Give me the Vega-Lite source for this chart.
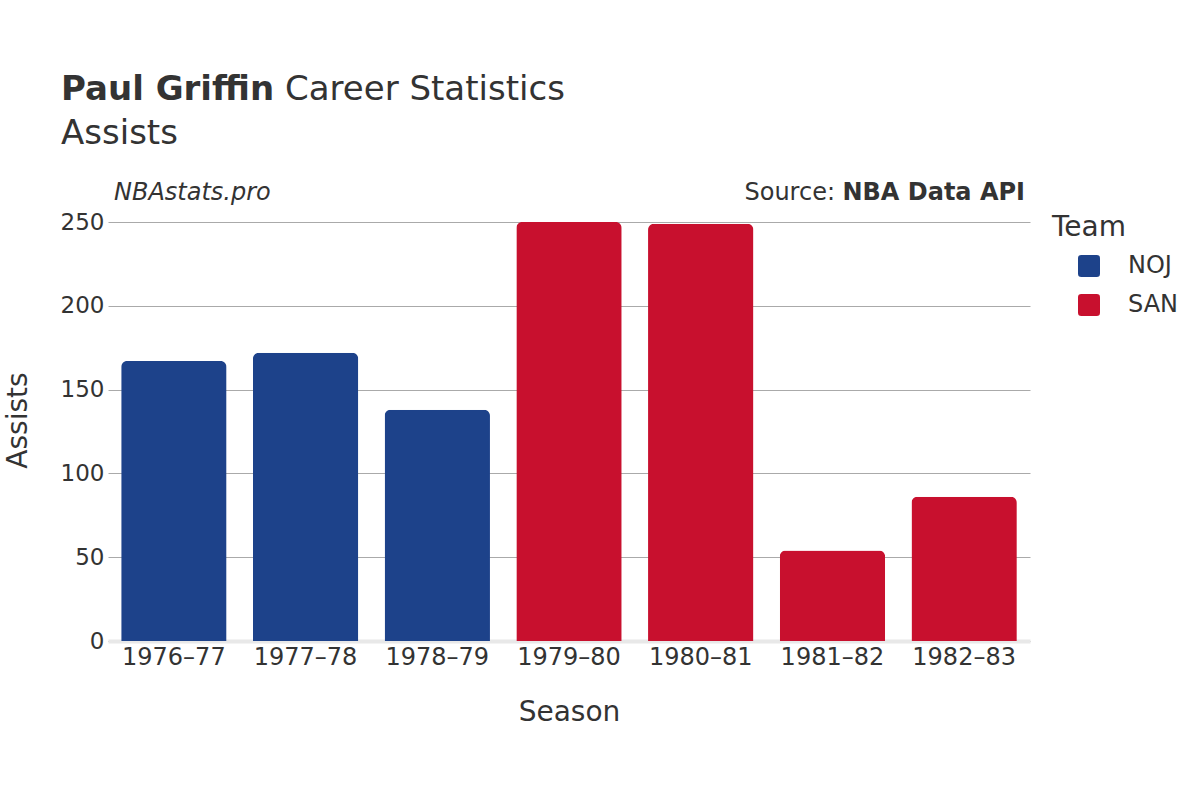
{
  "$schema": "https://vega.github.io/schema/vega-lite/v6.json",
  "width": 922,
  "height": 419,
  "autosize": {"type": "none"},
  "padding": {"left": 108, "top": 222, "right": 170, "bottom": 159},
  "background": "white",
  "config": {
    "font": "DejaVu Sans",
    "view": {"stroke": null},
    "text": {"color": "#333333"}
  },
  "title": {
    "text": "Paul Griffin",
    "subtitle": "Assists",
    "anchor": "start",
    "frame": "group",
    "dx": -47,
    "offset": -78,
    "fontSize": 34,
    "fontWeight": "bold",
    "color": "#333333",
    "subtitleFontSize": 34,
    "subtitleColor": "#333333",
    "subtitlePadding": 10
  },
  "data": {
    "values": [
      {"Season": "1976–77", "Team": "NOJ", "Assists": 167},
      {"Season": "1977–78", "Team": "NOJ", "Assists": 172},
      {"Season": "1978–79", "Team": "NOJ", "Assists": 138},
      {"Season": "1979–80", "Team": "SAN", "Assists": 250},
      {"Season": "1980–81", "Team": "SAN", "Assists": 249},
      {"Season": "1981–82", "Team": "SAN", "Assists": 54},
      {"Season": "1982–83", "Team": "SAN", "Assists": 86}
    ]
  },
  "layer": [
    {
      "mark": {"type": "bar", "cornerRadiusTopLeft": 6, "cornerRadiusTopRight": 6},
      "encoding": {
        "x": {
          "field": "Season",
          "type": "nominal",
          "scale": {"paddingInner": 0.2, "paddingOuter": 0.1},
          "axis": {
            "labelAngle": 0,
            "labelFontSize": 24,
            "labelColor": "#333333",
            "labelPadding": 4,
            "ticks": false,
            "domainColor": "#e8e8e8",
            "domainWidth": 4,
            "title": "Season",
            "titleFontSize": 28,
            "titleFontWeight": "normal",
            "titleColor": "#333333",
            "titlePadding": 29
          }
        },
        "y": {
          "field": "Assists",
          "type": "quantitative",
          "scale": {"domain": [0, 250]},
          "axis": {
            "values": [0, 50, 100, 150, 200, 250],
            "labelFontSize": 23,
            "labelColor": "#333333",
            "labelPadding": 4,
            "ticks": false,
            "domain": false,
            "gridColor": "#aaaaaa",
            "gridWidth": 1,
            "title": "Assists",
            "titleFontSize": 28,
            "titleFontWeight": "normal",
            "titleColor": "#333333",
            "titleAngle": 270,
            "titleAlign": "center",
            "titleBaseline": "middle",
            "titleX": -90,
            "titleY": 198
          }
        },
        "color": {
          "field": "Team",
          "type": "nominal",
          "scale": {"domain": ["NOJ", "SAN"], "range": ["#1d428a", "#c8102e"]},
          "legend": {
            "orient": "none",
            "legendX": 944,
            "legendY": -8,
            "padding": 0,
            "title": "Team",
            "titleFontSize": 28,
            "titleFontWeight": "normal",
            "titleColor": "#333333",
            "titlePadding": 12,
            "labelFontSize": 24,
            "labelColor": "#333333",
            "symbolType": "M -0.7 -1 L 0.7 -1 Q 1 -1 1 -0.7 L 1 0.7 Q 1 1 0.7 1 L -0.7 1 Q -1 1 -1 0.7 L -1 -0.7 Q -1 -1 -0.7 -1 Z",
            "symbolSize": 484,
            "symbolStrokeWidth": 0,
            "symbolOpacity": 1,
            "symbolOffset": 25,
            "labelOffset": 27,
            "rowPadding": 15
          }
        }
      }
    },
    {
      "data": {"values": [{}]},
      "mark": {"type": "text", "text": "Career Statistics", "x": 177, "y": -122, "align": "left", "baseline": "alphabetic", "fontSize": 34, "color": "#333333"},
      "encoding": {}
    },
    {
      "data": {"values": [{}]},
      "mark": {"type": "text", "text": "NBAstats.pro", "x": 6, "y": -22, "align": "left", "baseline": "alphabetic", "fontSize": 24, "fontStyle": "italic", "color": "#333333"},
      "encoding": {}
    },
    {
      "data": {"values": [{}]},
      "mark": {"type": "text", "text": "NBA Data API", "x": 917, "y": -22, "align": "right", "baseline": "alphabetic", "fontSize": 24, "fontWeight": "bold", "color": "#333333"},
      "encoding": {}
    },
    {
      "data": {"values": [{}]},
      "mark": {"type": "text", "text": "Source:", "x": 727, "y": -22, "align": "right", "baseline": "alphabetic", "fontSize": 24, "color": "#333333"},
      "encoding": {}
    }
  ]
}
